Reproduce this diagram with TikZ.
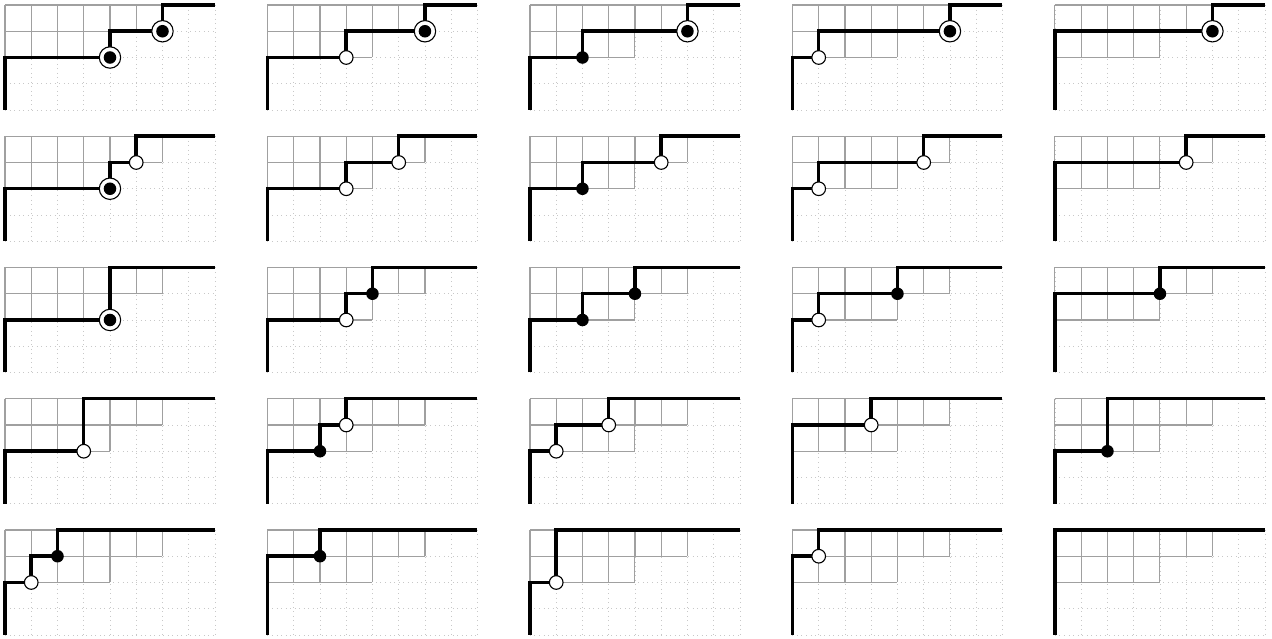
\documentclass[tikz,border=0pt]{standalone}
\usepackage{tikz}
\definecolor{gridGray}{HTML}{C8C8C8}
\definecolor{cellGray}{HTML}{A0A0A0}

% one panel: #1 column, #2 row, #3 boundary path, #4 markers
\newcommand{\strippanel}[4]{%
  \begin{scope}[shift={(10*#1,-5*#2)}, yscale=-1]
    \draw[dotgrid] (0,0) grid (8,4);
    \draw[youngcell] (0,0) grid (6,1) (0,1) grid (4,2);
    \draw[route] #3;
    #4
  \end{scope}}

\begin{document}
\begin{tikzpicture}[
  x=0.5cm, y=0.5cm,
  dotgrid/.style={gridGray, line width=0.45pt, dotted, step=0.5cm},
  youngcell/.style={cellGray, line width=0.6pt, step=0.5cm},
  route/.style={black, line width=1.9pt},
  dot/.style={circle, fill=black, inner sep=0pt, minimum size=6.8pt},
  hole/.style={circle, draw=black, line width=0.6pt, fill=white, inner sep=0pt, minimum size=7.4pt},
  hit/.style={circle, draw=black, line width=0.6pt, fill=white, inner sep=0pt, minimum size=11.6pt,
              path picture={\fill[black] (path picture bounding box.center) circle (3.4pt);}}
]
  \useasboundingbox (-0.19,0.19) rectangle (48.27,-24.15);

  % first row
  \strippanel{0}{0}{(0,4) -- (0,2) -- (4,2) -- (4,1) -- (6,1) -- (6,0) -- (8,0)}
    {\node[hit] (p00a) at (4,2) {}; \node[hit] (p00b) at (6,1) {};}
  \strippanel{1}{0}{(0,4) -- (0,2) -- (3,2) -- (3,1) -- (6,1) -- (6,0) -- (8,0)}
    {\node[hole] (p10a) at (3,2) {}; \node[hit] (p10b) at (6,1) {};}
  \strippanel{2}{0}{(0,4) -- (0,2) -- (2,2) -- (2,1) -- (6,1) -- (6,0) -- (8,0)}
    {\node[dot] (p20a) at (2,2) {}; \node[hit] (p20b) at (6,1) {};}
  \strippanel{3}{0}{(0,4) -- (0,2) -- (1,2) -- (1,1) -- (6,1) -- (6,0) -- (8,0)}
    {\node[hole] (p30a) at (1,2) {}; \node[hit] (p30b) at (6,1) {};}
  \strippanel{4}{0}{(0,4) -- (0,1) -- (6,1) -- (6,0) -- (8,0)}
    {\node[hit] (p40b) at (6,1) {};}

  % second row
  \strippanel{0}{1}{(0,4) -- (0,2) -- (4,2) -- (4,1) -- (5,1) -- (5,0) -- (8,0)}
    {\node[hit] (p01a) at (4,2) {}; \node[hole] (p01b) at (5,1) {};}
  \strippanel{1}{1}{(0,4) -- (0,2) -- (3,2) -- (3,1) -- (5,1) -- (5,0) -- (8,0)}
    {\node[hole] (p11a) at (3,2) {}; \node[hole] (p11b) at (5,1) {};}
  \strippanel{2}{1}{(0,4) -- (0,2) -- (2,2) -- (2,1) -- (5,1) -- (5,0) -- (8,0)}
    {\node[dot] (p21a) at (2,2) {}; \node[hole] (p21b) at (5,1) {};}
  \strippanel{3}{1}{(0,4) -- (0,2) -- (1,2) -- (1,1) -- (5,1) -- (5,0) -- (8,0)}
    {\node[hole] (p31a) at (1,2) {}; \node[hole] (p31b) at (5,1) {};}
  \strippanel{4}{1}{(0,4) -- (0,1) -- (5,1) -- (5,0) -- (8,0)}
    {\node[hole] (p41b) at (5,1) {};}

  % third row
  \strippanel{0}{2}{(0,4) -- (0,2) -- (4,2) -- (4,0) -- (8,0)}
    {\node[hit] (p02a) at (4,2) {};}
  \strippanel{1}{2}{(0,4) -- (0,2) -- (3,2) -- (3,1) -- (4,1) -- (4,0) -- (8,0)}
    {\node[hole] (p12a) at (3,2) {}; \node[dot] (p12b) at (4,1) {};}
  \strippanel{2}{2}{(0,4) -- (0,2) -- (2,2) -- (2,1) -- (4,1) -- (4,0) -- (8,0)}
    {\node[dot] (p22a) at (2,2) {}; \node[dot] (p22b) at (4,1) {};}
  \strippanel{3}{2}{(0,4) -- (0,2) -- (1,2) -- (1,1) -- (4,1) -- (4,0) -- (8,0)}
    {\node[hole] (p32a) at (1,2) {}; \node[dot] (p32b) at (4,1) {};}
  \strippanel{4}{2}{(0,4) -- (0,1) -- (4,1) -- (4,0) -- (8,0)}
    {\node[dot] (p42b) at (4,1) {};}

  % fourth row
  \strippanel{0}{3}{(0,4) -- (0,2) -- (3,2) -- (3,0) -- (8,0)}
    {\node[hole] (p03a) at (3,2) {};}
  \strippanel{1}{3}{(0,4) -- (0,2) -- (2,2) -- (2,1) -- (3,1) -- (3,0) -- (8,0)}
    {\node[dot] (p13a) at (2,2) {}; \node[hole] (p13b) at (3,1) {};}
  \strippanel{2}{3}{(0,4) -- (0,2) -- (1,2) -- (1,1) -- (3,1) -- (3,0) -- (8,0)}
    {\node[hole] (p23a) at (1,2) {}; \node[hole] (p23b) at (3,1) {};}
  \strippanel{3}{3}{(0,4) -- (0,1) -- (3,1) -- (3,0) -- (8,0)}
    {\node[hole] (p33b) at (3,1) {};}
  \strippanel{4}{3}{(0,4) -- (0,2) -- (2,2) -- (2,0) -- (8,0)}
    {\node[dot] (p43a) at (2,2) {};}

  % fifth row
  \strippanel{0}{4}{(0,4) -- (0,2) -- (1,2) -- (1,1) -- (2,1) -- (2,0) -- (8,0)}
    {\node[hole] (p04a) at (1,2) {}; \node[dot] (p04b) at (2,1) {};}
  \strippanel{1}{4}{(0,4) -- (0,1) -- (2,1) -- (2,0) -- (8,0)}
    {\node[dot] (p14b) at (2,1) {};}
  \strippanel{2}{4}{(0,4) -- (0,2) -- (1,2) -- (1,0) -- (8,0)}
    {\node[hole] (p24a) at (1,2) {};}
  \strippanel{3}{4}{(0,4) -- (0,1) -- (1,1) -- (1,0) -- (8,0)}
    {\node[hole] (p34b) at (1,1) {};}
  \strippanel{4}{4}{(0,4) -- (0,0) -- (8,0)}{}
\end{tikzpicture}
\end{document}
